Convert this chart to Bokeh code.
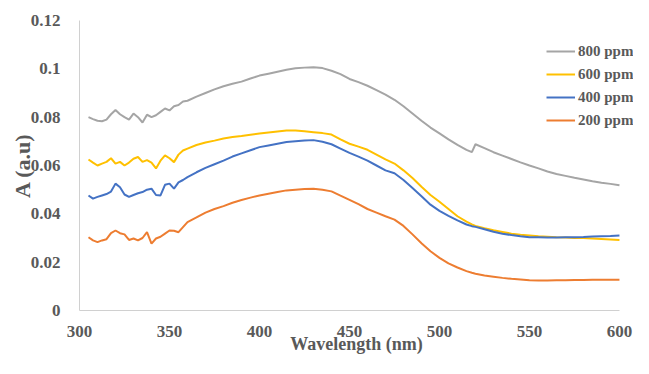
from bokeh.plotting import figure
from bokeh.models import Range1d, FixedTicker, Legend, LegendItem
from bokeh.embed import file_html
from bokeh.resources import INLINE

wavelength = [305, 307.5, 310, 312.5, 315, 317.5, 320, 322.5, 325, 327.5, 330, 332.5,
              335, 337.5, 340, 342.5, 345, 347.5, 350, 352.5, 355, 357.5, 360,
              365, 370, 375, 380, 385, 390, 395, 400, 405, 410, 415, 420, 425, 430,
              435, 440, 445, 450, 455, 460, 465, 470, 475, 480, 485, 490, 495, 500,
              505, 510, 515, 518, 520, 525, 530, 535, 540, 545, 550, 555, 560, 565,
              570, 575, 580, 585, 590, 595, 600]

a_800 = [0.0800, 0.0792, 0.0785, 0.0783, 0.0790, 0.0812, 0.0830, 0.0812, 0.0800, 0.0790,
         0.0815, 0.0800, 0.0778, 0.0810, 0.0800, 0.0808, 0.0822, 0.0836, 0.0828, 0.0845,
         0.0850, 0.0865, 0.0868,
         0.0885, 0.0900, 0.0915, 0.0928, 0.0938, 0.0947, 0.0960, 0.0972, 0.0980, 0.0988,
         0.0996, 0.1002, 0.1005, 0.1007, 0.1003, 0.0992, 0.0978, 0.0958, 0.0945, 0.0930,
         0.0912, 0.0893, 0.0872, 0.0845, 0.0815, 0.0785, 0.0757, 0.0733, 0.0708, 0.0685,
         0.0665, 0.0655, 0.0688, 0.0672, 0.0655, 0.0641, 0.0627, 0.0613, 0.0600, 0.0588,
         0.0575, 0.0565, 0.0557, 0.0549, 0.0542, 0.0535, 0.0529, 0.0524, 0.0518]

a_600 = [0.0625, 0.0612, 0.0600, 0.0608, 0.0615, 0.0630, 0.0608, 0.0615, 0.0600, 0.0612,
         0.0628, 0.0635, 0.0615, 0.0622, 0.0612, 0.0588, 0.0620, 0.0642, 0.0630, 0.0614,
         0.0645, 0.0662, 0.0670,
         0.0685, 0.0695, 0.0703, 0.0712, 0.0718, 0.0722, 0.0727, 0.0732, 0.0737, 0.0741,
         0.0745, 0.0745, 0.0742, 0.0738, 0.0734, 0.0728, 0.0708, 0.0690, 0.0678, 0.0665,
         0.0645, 0.0625, 0.0608, 0.0580, 0.0548, 0.0512, 0.0478, 0.0450, 0.0420, 0.0390,
         0.0368, 0.0356, 0.0350, 0.0340, 0.0332, 0.0325, 0.0318, 0.0313, 0.0310, 0.0307,
         0.0305, 0.0303, 0.0302, 0.0300, 0.0300, 0.0298, 0.0296, 0.0294, 0.0292]

a_400 = [0.0476, 0.0463, 0.0470, 0.0476, 0.0482, 0.0492, 0.0525, 0.0510, 0.0480, 0.0470,
         0.0478, 0.0485, 0.0490, 0.0500, 0.0504, 0.0478, 0.0476, 0.0520, 0.0525, 0.0504,
         0.0530, 0.0540, 0.0552,
         0.0572, 0.0590, 0.0605, 0.0620, 0.0637, 0.0650, 0.0663, 0.0676, 0.0683, 0.0690,
         0.0697, 0.0700, 0.0703, 0.0705, 0.0698, 0.0688, 0.0670, 0.0652, 0.0637, 0.0620,
         0.0600, 0.0580, 0.0568, 0.0540, 0.0507, 0.0473, 0.0438, 0.0412, 0.0392, 0.0373,
         0.0356, 0.0349, 0.0346, 0.0336, 0.0326, 0.0318, 0.0312, 0.0307, 0.0303, 0.0303,
         0.0302, 0.0302, 0.0303, 0.0303, 0.0304, 0.0306, 0.0307, 0.0308, 0.0310]

a_200 = [0.0303, 0.0290, 0.0283, 0.0290, 0.0295, 0.0320, 0.0331, 0.0320, 0.0315, 0.0292,
         0.0298, 0.0290, 0.0300, 0.0324, 0.0277, 0.0298, 0.0305, 0.0318, 0.0331, 0.0330,
         0.0324, 0.0345, 0.0366,
         0.0385, 0.0405, 0.0420, 0.0432, 0.0446, 0.0457, 0.0467, 0.0476, 0.0483, 0.0490,
         0.0497, 0.0500, 0.0503, 0.0504, 0.0500, 0.0493, 0.0475, 0.0458, 0.0440, 0.0420,
         0.0405, 0.0390, 0.0376, 0.0350, 0.0315, 0.0278, 0.0245, 0.0218, 0.0195, 0.0178,
         0.0163, 0.0156, 0.0152, 0.0145, 0.0140, 0.0135, 0.0131, 0.0128, 0.0125, 0.0124,
         0.0124, 0.0125, 0.0125, 0.0126, 0.0126, 0.0127, 0.0127, 0.0127, 0.0127]

series_names = ["800 ppm", "600 ppm", "400 ppm", "200 ppm"]
series_values = [a_800, a_600, a_400, a_200]
series_colors = ["#a5a5a5", "#ffc000", "#4472c4", "#ed7d31"]

x_ticks = [300, 350, 400, 450, 500, 550, 600]
y_ticks = [0, 0.02, 0.04, 0.06, 0.08, 0.1, 0.12]
y_tick_labels = ["0", "0.02", "0.04", "0.06", "0.08", "0.1", "0.12"]

FONT = "Liberation Serif"
TXT = "#595959"

p = figure(width=633, height=358, output_backend="svg", toolbar_location=None,
           x_range=Range1d(300, 607.8), y_range=Range1d(0, 0.12),
           min_border_left=79, min_border_right=0, min_border_top=20, min_border_bottom=48)
p.outline_line_color = None
p.grid.visible = False
p.background_fill_color = "white"

items = []
for name, vals, col in zip(series_names, series_values, series_colors):
    r = p.line(wavelength, vals, line_color=col, line_width=2)
    items.append(LegendItem(label=name, renderers=[r]))

for ax in (p.xaxis[0], p.yaxis[0]):
    ax.axis_line_color = "#d0d0d0"
    ax.axis_line_width = 1
    ax.major_tick_line_color = None
    ax.minor_tick_line_color = None
    ax.major_tick_out = 0
    ax.major_tick_in = 0
    ax.major_label_text_font = FONT
    ax.major_label_text_font_style = "bold"
    ax.major_label_text_font_size = "17px"
    ax.major_label_text_color = TXT
    ax.axis_label_text_font = FONT
    ax.axis_label_text_font_style = "bold"
    ax.axis_label_text_color = TXT

p.xaxis.bounds = (300, 600)
p.xaxis.ticker = FixedTicker(ticks=x_ticks)
p.yaxis.ticker = FixedTicker(ticks=y_ticks)
p.yaxis.major_label_overrides = {t: l for t, l in zip(y_ticks, y_tick_labels)}
p.xaxis.major_label_standoff = 15
p.yaxis.major_label_standoff = 19
p.xaxis.axis_label = "Wavelength (nm)"
p.yaxis.axis_label = "A (a.u)"
p.xaxis.axis_label_text_font_size = "18px"
p.yaxis.axis_label_text_font_size = "22px"
p.xaxis.axis_label_standoff = -6
p.yaxis.axis_label_standoff = -7

legend = Legend(items=items, location=(467, 181), margin=0, padding=0, spacing=5,
                glyph_width=29, glyph_height=18, label_height=18, label_standoff=3,
                label_text_font=FONT, label_text_font_style="bold",
                label_text_font_size="15px", label_text_color=TXT,
                background_fill_alpha=0, border_line_color=None)
p.add_layout(legend)

open("out.html", "w").write(file_html(p, INLINE))
